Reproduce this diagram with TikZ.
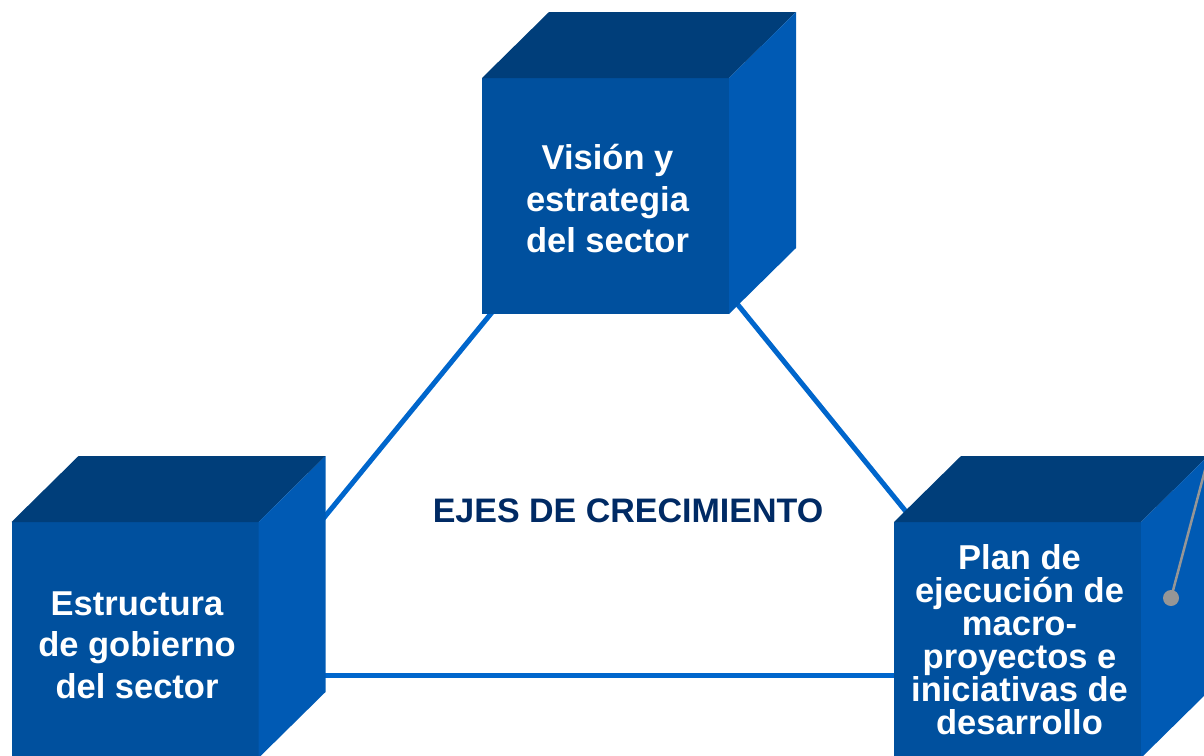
\documentclass[tikz,border=0pt]{standalone}
\usepackage{fontspec}
\setmainfont{Liberation Sans}
\definecolor{frontc}{RGB}{0,80,158}
\definecolor{topc}{RGB}{0,62,122}
\definecolor{sidec}{RGB}{0,90,180}
\definecolor{linkc}{RGB}{0,102,204}
\definecolor{titlec}{RGB}{0,42,100}
\definecolor{greyc}{RGB}{150,150,150}
\tikzset{
  front/.style={rectangle,fill=frontc,inner sep=0pt,outer sep=0pt,
    minimum width=247pt,minimum height=236pt},
  facetext/.style={text=white,align=center,inner sep=0pt,
    font=\bfseries\fontsize{34.5}{41.5}\selectfont},
  link/.style={draw=linkc,line width=5pt},
  pointer/.style={draw=greyc,line width=2.5pt},
}
\newcommand{\cubesides}[1]{%
  \fill[topc] (#1.north west) -- ++(67,-66) -- ++(247,0) -- (#1.north east) -- cycle;
  \fill[sidec] (#1.north east) -- ++(67,-66) -- ++(0,236) -- (#1.south east) -- cycle;
}
\begin{document}
\begin{tikzpicture}[x=1pt,y=-1pt]
\useasboundingbox (0,0) rectangle (1204,755);
\begin{scope}
\clip (0,0) rectangle (1204,755);
% connectors (behind the cubes)
\coordinate (l1a) at (498,305);
\coordinate (l1b) at (300,547);
\coordinate (l2a) at (734,300);
\coordinate (l2b) at (925,535);
\coordinate (l3a) at (300,675);
\coordinate (l3b) at (920,675);
\draw[link] (l1a) -- (l1b);
\draw[link] (l2a) -- (l2b);
\draw[link] (l3a) -- (l3b);
% cubes
\node[front] (vision) at (605.5,196) {};
\cubesides{vision}
\node[facetext] (visiont) at ([xshift=2,yshift=-3]vision.center) {Visión y\\estrategia\\del sector};
\node[front] (estructura) at (135,640) {};
\cubesides{estructura}
\node[facetext] (estructurat) at ([xshift=2,yshift=-5]estructura.center) {Estructura\\de gobierno\\del sector};
\node[front] (plan) at (1017.5,640) {};
\cubesides{plan}
\node[facetext,font=\bfseries\fontsize{34.5}{33}\selectfont] (plant) at ([xshift=2]plan.center)
  {Plan de\\ejecución de\\macro-\\proyectos e\\iniciativas de\\desarrollo};
% centre title
\node[font=\bfseries\fontsize{34}{40}\selectfont,text=titlec] (ejes) at (628,511) {EJES DE CRECIMIENTO};
% grey pointer
\coordinate (pdot) at (1171,598);
\coordinate (pend) at (1213,440);
\draw[pointer] (pdot) -- (pend);
\fill[greyc] (pdot) circle (8);
\end{scope}
\end{tikzpicture}
\end{document}
